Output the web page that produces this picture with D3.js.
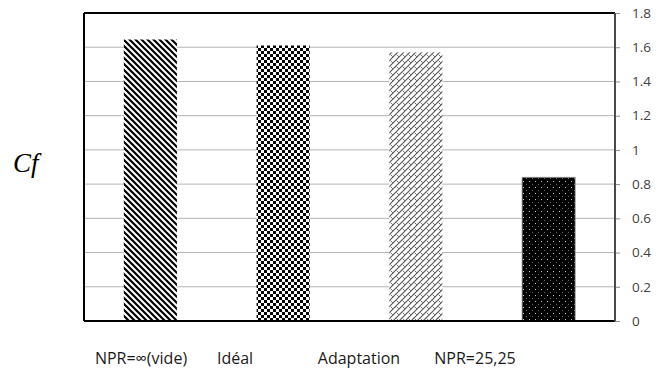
<!DOCTYPE html>
<html>
<head>
<meta charset="utf-8">
<script src="https://cdn.jsdelivr.net/npm/d3@7"></script>
<style>
  html, body { margin: 0; padding: 0; background: #fff; }
  svg { display: block; }
</style>
</head>
<body>
<svg id="chart" width="662" height="372"></svg>
<script>
// Skin-friction coefficient for each nozzle condition
const categories = ["NPR=∞(vide)", "Idéal", "Adaptation", "NPR=25,25"];
const cfValues = [1.645, 1.61, 1.57, 0.84];
const yTicks = [0, 0.2, 0.4, 0.6, 0.8, 1, 1.2, 1.4, 1.6, 1.8];
const fillPatterns = ["hatch", "checker", "weave", "dots"];

// Layout
const W = 662, H = 372;
const plot = { left: 84, right: 615, top: 13, bottom: 321 };
const catLabelX = [141, 235, 359, 475];
const catLabelY = 364;

const svg = d3.select("#chart");
const defs = svg.append("defs");

// Diagonal hatch (top-left to bottom-right)
const pHatch = defs.append("pattern").attr("id", "hatch")
  .attr("patternUnits", "userSpaceOnUse").attr("width", 6).attr("height", 6);
pHatch.append("rect").attr("width", 6).attr("height", 6).attr("fill", "#fff");
pHatch.append("path").attr("d", "M-1,-1 L7,7 M-4,2 L4,10 M2,-4 L10,4")
  .attr("stroke", "#000").attr("stroke-width", 2.2);

// Small checkerboard
const pCheck = defs.append("pattern").attr("id", "checker")
  .attr("patternUnits", "userSpaceOnUse").attr("width", 6).attr("height", 6);
pCheck.append("rect").attr("width", 6).attr("height", 6).attr("fill", "#fff");
pCheck.append("rect").attr("width", 3).attr("height", 3).attr("fill", "#000");
pCheck.append("rect").attr("x", 3).attr("y", 3).attr("width", 3).attr("height", 3).attr("fill", "#000");

// Grey woven diagonal
const pWeave = defs.append("pattern").attr("id", "weave")
  .attr("patternUnits", "userSpaceOnUse").attr("width", 6).attr("height", 6);
pWeave.append("rect").attr("width", 6).attr("height", 6).attr("fill", "#fff");
pWeave.append("path").attr("d", "M-1,7 L7,-1 M-4,4 L4,-4 M2,10 L10,2")
  .attr("stroke", "#555").attr("stroke-width", 1.1);
pWeave.append("path").attr("d", "M0.5,0.5 L3,3")
  .attr("stroke", "#777").attr("stroke-width", 1);

// Black with sparse light dots
const pDots = defs.append("pattern").attr("id", "dots")
  .attr("patternUnits", "userSpaceOnUse").attr("width", 6).attr("height", 6);
pDots.append("rect").attr("width", 6).attr("height", 6).attr("fill", "#000");
pDots.append("rect").attr("x", 1).attr("y", 1).attr("width", 1).attr("height", 1).attr("fill", "#c8c8c8");
pDots.append("rect").attr("x", 4).attr("y", 4).attr("width", 1).attr("height", 1).attr("fill", "#666");

const x = d3.scaleBand()
  .domain(categories)
  .range([plot.left, plot.right])
  .paddingInner(0.6)
  .paddingOuter(0.3);

const y = d3.scaleLinear()
  .domain([0, 1.8])
  .range([plot.bottom, plot.top]);

// Horizontal gridlines
svg.append("g").selectAll("line")
  .data(yTicks.filter(t => t > 0 && t < 1.8))
  .join("line")
  .attr("x1", plot.left).attr("x2", plot.right)
  .attr("y1", d => y(d)).attr("y2", d => y(d))
  .attr("stroke", "#b4b4b4").attr("stroke-width", 1);

// Bars
svg.append("g").selectAll("rect")
  .data(categories.map((c, i) => ({ c, v: cfValues[i], p: fillPatterns[i] })))
  .join("rect")
  .attr("x", d => x(d.c))
  .attr("y", d => y(d.v))
  .attr("width", x.bandwidth())
  .attr("height", d => y(0) - y(d.v))
  .attr("fill", d => `url(#${d.p})`)
  .attr("stroke", d => d.p === "dots" ? "#999" : "none")
  .attr("stroke-width", 0.8);

// Right-hand value axis
const yAxis = d3.axisRight(y).tickValues(yTicks).tickSize(5).tickPadding(12)
  .tickFormat(d => String(d));
const ag = svg.append("g").attr("transform", `translate(${plot.right},0)`).call(yAxis);
ag.select(".domain").remove();
ag.selectAll(".tick line").attr("stroke", "#8c8c8c");
ag.selectAll(".tick text")
  .attr("fill", "#404040")
  .style("font-family", "'Open Sans', sans-serif")
  .style("font-size", "13.5px");

// Plot frame
svg.append("line").attr("x1", plot.left).attr("x2", plot.right)
  .attr("y1", plot.top).attr("y2", plot.top).attr("stroke", "#000").attr("stroke-width", 2);
svg.append("line").attr("x1", plot.left).attr("x2", plot.right)
  .attr("y1", plot.bottom).attr("y2", plot.bottom).attr("stroke", "#000").attr("stroke-width", 2);
svg.append("line").attr("x1", plot.left).attr("x2", plot.left)
  .attr("y1", plot.top).attr("y2", plot.bottom).attr("stroke", "#000").attr("stroke-width", 2);
svg.append("line").attr("x1", plot.right).attr("x2", plot.right)
  .attr("y1", plot.top).attr("y2", plot.bottom).attr("stroke", "#4a4a4a").attr("stroke-width", 2);

// Category labels
svg.append("g").selectAll("text")
  .data(categories)
  .join("text")
  .attr("x", (d, i) => catLabelX[i])
  .attr("y", catLabelY)
  .attr("text-anchor", "middle")
  .attr("fill", "#1a1a1a")
  .style("font-family", "'Open Sans', sans-serif")
  .style("font-size", "16px")
  .text(d => d);

// Axis title
svg.append("text")
  .attr("x", 13).attr("y", 172)
  .attr("fill", "#000")
  .style("font-family", "'Liberation Serif', 'Times New Roman', serif")
  .style("font-style", "italic")
  .style("font-size", "27px")
  .text("Cf");
</script>
</body>
</html>
